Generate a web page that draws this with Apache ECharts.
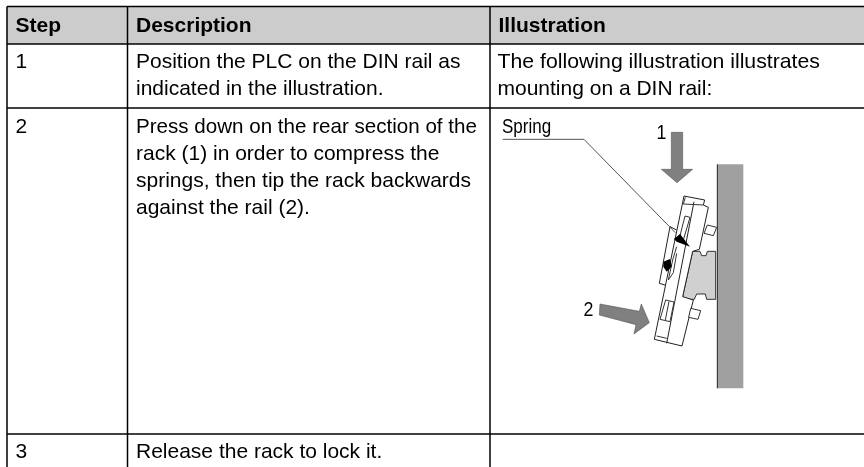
<!DOCTYPE html>
<html>
<head>
<meta charset="utf-8">
<title>Mounting on a DIN rail</title>
<script src="https://cdn.jsdelivr.net/npm/echarts@6/dist/echarts.min.js"></script>
<style>
  html, body { margin: 0; padding: 0; background: #fff; }
  #main { width: 864px; height: 467px; }
</style>
</head>
<body>
<div id="main"></div>
<script>
  var headers = ['Step', 'Description', 'Illustration'];
  var steps = ['1', '2', '3'];
  var descriptions = [
    ['Position the PLC on the DIN rail as', 'indicated in the illustration.'],
    ['Press down on the rear section of the', 'rack (1) in order to compress the', 'springs, then tip the rack backwards', 'against the rail (2).'],
    ['Release the rack to lock it.']
  ];
  var illustrationText = ['The following illustration illustrates', 'mounting on a DIN rail:'];
  var calloutLabels = ['Spring', '1', '2'];

  var font = '"Liberation Sans", Arial, sans-serif';
  var colX = [7, 127.5, 490];
  var rowY = [6.5, 44, 108, 434];
  var tableRight = 864, tableBottom = 467;
  var lineHeight = 27;
  var elements = [];

  function text(str, x, y, opt) {
    opt = opt || {};
    elements.push({
      type: 'text', z: 5, scaleX: opt.scaleX || 1, x: x, y: y,
      style: {
        text: str, x: 0, y: 0, fill: '#000',
        fontFamily: font, fontSize: opt.size || 21, fontWeight: opt.weight || 'normal',
        textVerticalAlign: 'middle'
      }
    });
  }
  function rule(x1, y1, x2, y2, w, color) {
    elements.push({
      type: 'line', z: 4, shape: {x1: x1, y1: y1, x2: x2, y2: y2},
      style: {stroke: color || '#000', lineWidth: w || 1.5}
    });
  }
  function shape(points, fill, stroke, w, open) {
    elements.push({
      type: open ? 'polyline' : 'polygon', z: 3, shape: {points: points.map(function (p) {
        return [500 + p[0] / 3, 90 + p[1] / 3];
      })},
      style: {fill: open ? null : fill, stroke: stroke || null, lineWidth: w || 1}
    });
  }

  // header band and grid
  elements.push({
    type: 'rect', z: 1,
    shape: {x: colX[0], y: rowY[0], width: tableRight - colX[0], height: rowY[1] - rowY[0]},
    style: {fill: '#cccccc'}
  });
  rowY.forEach(function (y) { rule(colX[0], y, tableRight, y); });
  colX.forEach(function (x) { rule(x, rowY[0], x, tableBottom); });

  // table text
  headers.forEach(function (h, i) { text(h, colX[i] + 8.5, 26, {weight: 'bold'}); });
  var rowTextY = [62.5, 127, 452.5];
  steps.forEach(function (s, i) {
    text(s, colX[0] + 8.5, rowTextY[i]);
    descriptions[i].forEach(function (line, j) {
      // the long line of step 2 runs a little tighter in the original
      var sx = (i === 1 && j === 0) ? 0.98 : 1;
      text(line, colX[1] + 8.5, rowTextY[i] + j * lineHeight, {scaleX: sx});
    });
  });
  illustrationText.forEach(function (line, j) {
    text(line, colX[2] + 7.5, rowTextY[0] + j * lineHeight, {scaleX: j === 0 ? 1.012 : 1});
  });

  // rail
  shape([[652, 223], [730, 223], [730, 895], [652, 895]], '#a0a0a0');
  shape([[652, 223], [652, 895]], null, '#222', 1, true);
  // arrows
  shape([[514, 127], [548, 127], [548, 238], [578, 238], [531, 278], [484, 238], [514, 238]], '#808080', '#555', 0.6);
  shape([[300, 642], [418, 664], [424, 642], [448, 698], [402, 732], [408, 704], [298, 675]], '#808080', '#555', 0.6);
  // DIN clip
  shape([[578, 484], [600, 484], [605, 497], [618, 497], [622, 484], [647, 484], [647, 628], [620, 628], [616, 612], [590, 612], [583, 628], [558, 628], [548, 620]], '#d0d0d0', '#333', 1);
  // module body
  shape([[552, 318], [614, 330], [610, 345], [625, 352], [598, 478], [578, 484], [548, 620], [580, 630], [546, 768], [463, 748]], '#fff', '#222', 1);
  shape([[582, 335], [500, 760]], null, '#222', 1, true);
  shape([[556, 322], [550, 342], [610, 345]], null, '#333', 1, true);
  shape([[510, 410], [478, 580], [495, 585]], null, '#222', 1, true);
  shape([[510, 410], [530, 420]], null, '#222', 1, true);
  shape([[622, 405], [650, 412], [640, 437], [612, 430]], '#fff', '#333', 1);
  shape([[572, 655], [602, 662], [594, 688], [566, 682]], '#fff', '#333', 1);
  shape([[555, 378], [570, 382], [550, 450], [538, 445]], '#fff', '#333', 1);
  shape([[497, 630], [522, 636], [510, 695], [480, 688]], '#fff', '#333', 1);
  shape([[507, 634], [496, 690]], null, '#333', 1, true);
  shape([[470, 738], [500, 745]], null, '#333', 1, true);
  shape([[530, 470], [518, 510], [505, 570], [520, 548], [530, 490]], null, '#333', 1, true);
  // springs
  shape([[522, 447], [540, 432], [570, 470], [530, 455]], '#000');
  shape([[490, 515], [510, 507], [515, 530], [500, 545], [490, 530]], '#000');
  // callout
  shape([[8, 148], [252, 148], [526, 428]], null, '#555', 1, true);
  text(calloutLabels[0], 502, 127.5, {size: 20, scaleX: 0.85});
  text(calloutLabels[1], 656.5, 133, {size: 21, scaleX: 0.85});
  text(calloutLabels[2], 583.5, 310, {size: 21, scaleX: 0.85});

  var chart = echarts.init(document.getElementById('main'));
  chart.setOption({
    backgroundColor: '#fff',
    animation: false,
    graphic: {elements: elements}
  });
</script>
</body>
</html>
